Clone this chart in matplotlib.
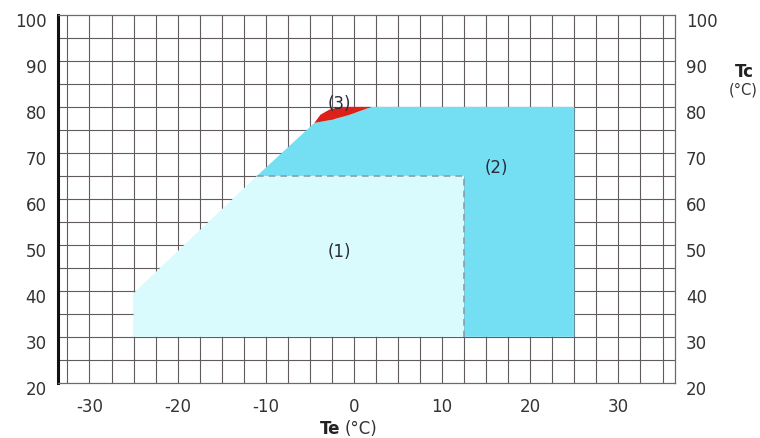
import numpy as np
import matplotlib
matplotlib.use("Agg")
import matplotlib.pyplot as plt
from matplotlib.transforms import ScaledTranslation


# compressor operating envelope, Te evaporating / Tc condensing (degC)

# region (1) - light
zone1_te = [-25, -25, -11, 12.5, 12.5]
zone1_tc = [30, 39.5, 65, 65, 30]

# region (2) - medium blue
zone2_te = [-11, -4.5, -2.5, -0.6, 2, 25, 25, 12.5, 12.5]
zone2_tc = [65, 76.5, 77.2, 78.2, 80, 80, 30, 30, 65]

# region (3) - red sliver on top
zone3_te = [-4.5, -3.8, -2.8, -1.5, 2, -0.6, -2.5]
zone3_tc = [76.5, 78.3, 79.4, 80, 80, 78.2, 77.2]

# dashed border between (1) and (2)
border_te = [-11, 12.5, 12.5]
border_tc = [65, 65, 30]

zone_labels = ["(1)", "(2)", "(3)"]
label_te = [-1.7, 16.2, -1.6]
label_tc = [48.5, 66.7, 80.6]

xticks = [-30, -20, -10, 0, 10, 20, 30]
yticks = [20, 30, 40, 50, 60, 70, 80, 90, 100]

plt.rcParams["axes.unicode_minus"] = False

fig = plt.figure(figsize=(7.6, 4.38), dpi=100)
ax = fig.add_axes([0.076, 0.126, 0.812, 0.840])

ax.set_xlim(-33.6, 36.4)
ax.set_ylim(20, 100)

# grid every 2.5 on Te, every 5 on Tc
for x in np.arange(-32.5, 36, 2.5):
    ax.axvline(x, color="#625b5e", lw=0.8, zorder=0)
for y in np.arange(25, 100, 5):
    ax.axhline(y, color="#625b5e", lw=0.8, zorder=0)

ax.fill(zone1_te, zone1_tc, color="#d9fbfd", lw=0, zorder=2)
ax.fill(zone2_te, zone2_tc, color="#74def2", lw=0, zorder=2)
ax.fill(zone3_te, zone3_tc, color="#dc2119", lw=0, zorder=3)
ax.plot(border_te, border_tc, color="#8c9fa6", lw=1.2, ls=(0, (4, 3)), zorder=3)

for lab, x, y in zip(zone_labels, label_te, label_tc):
    ax.text(x, y, lab, fontsize=12, color="#2a2a3a", ha="center", va="center", zorder=4)

# frame: thick left, thin grey elsewhere
for side in ["top", "right", "bottom"]:
    ax.spines[side].set_color("#6a6a6a")
    ax.spines[side].set_linewidth(0.9)
ax.spines["left"].set_color("#111111")
ax.spines["left"].set_linewidth(2.2)

ax.set_xticks(xticks)
ax.set_yticks(yticks)
ax.tick_params(axis="both", length=0, labelsize=12, labelcolor="#333333")
ax.tick_params(axis="x", pad=11)
ax.tick_params(axis="y", pad=8, labelright=True, left=False, right=False)

# tick labels sit a little below their lines in the scan
shift = ScaledTranslation(0, -3.6 / 72, fig.dpi_scale_trans)
for t in ax.yaxis.get_major_ticks():
    t.label1.set_transform(t.label1.get_transform() + shift)
    t.label2.set_transform(t.label2.get_transform() + shift)

fig.text(0.448, 0.009, "Te", fontsize=12, fontweight="bold", color="#222222", ha="right", va="baseline")
fig.text(0.453, 0.009, "(°C)", fontsize=12, color="#333333", ha="left", va="baseline")
fig.text(0.980, 0.835, "Tc", fontsize=12, fontweight="bold", color="#222222", ha="center", va="center")
fig.text(0.978, 0.795, "(°C)", fontsize=10.5, color="#333333", ha="center", va="center")

fig.savefig("out.png", dpi=100)
